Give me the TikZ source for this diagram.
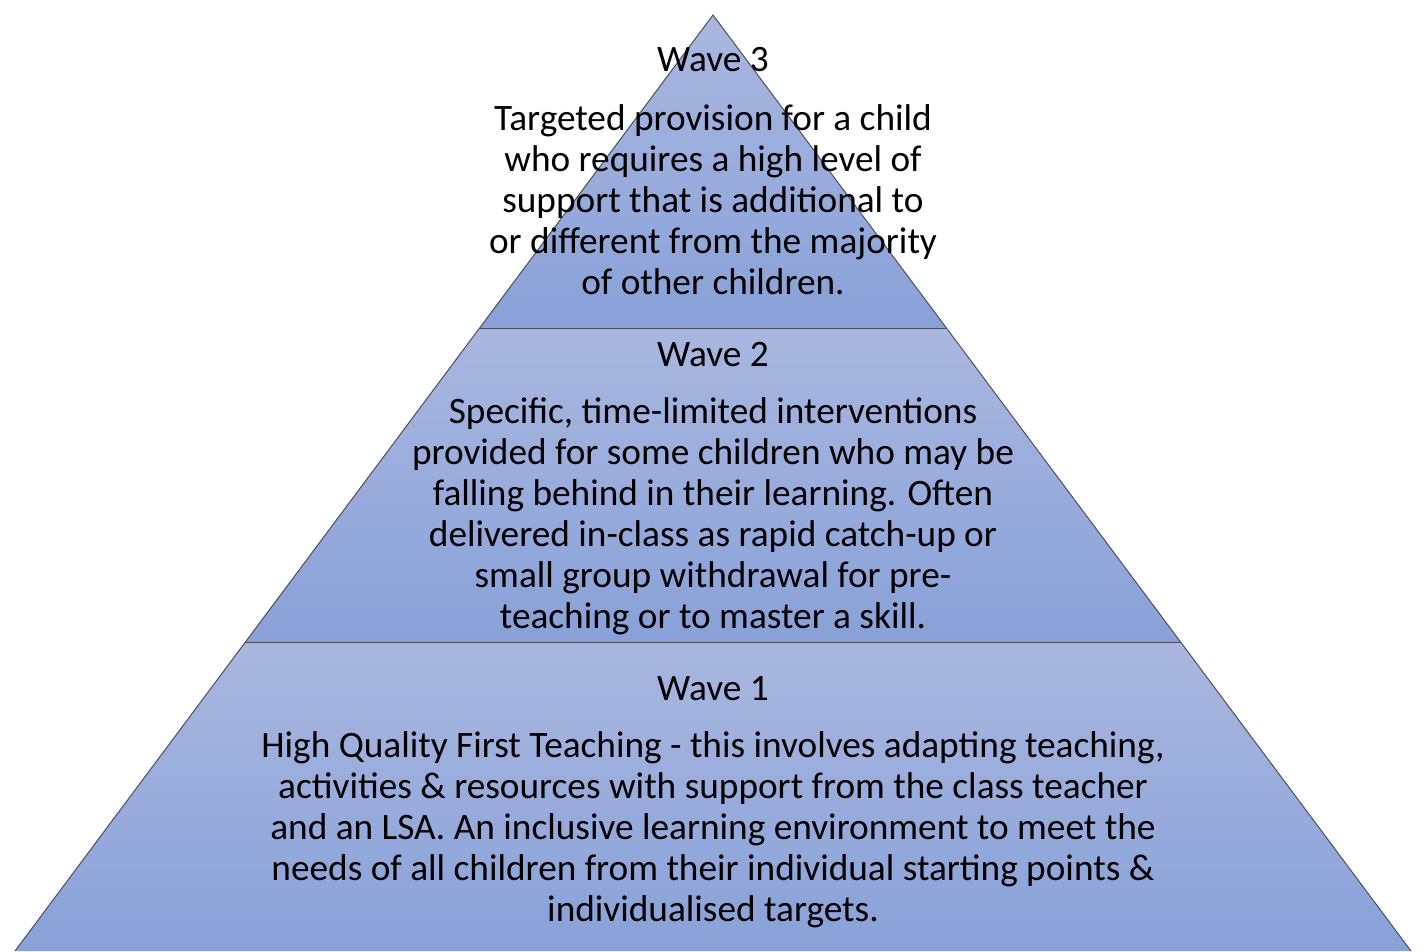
\documentclass[tikz,border=0pt]{standalone}
\usepackage{fontspec}
\setmainfont{Carlito}
\begin{document}
\begin{tikzpicture}[x=1pt,y=-1pt,
  tier/.style={top color=tiertop,bottom color=tierbot},
  edge/.style={draw=edgegray,line width=1pt},
  title/.style={font=\fontsize{37.3}{41}\selectfont,inner sep=0pt,text=black},
  body/.style={font=\fontsize{37.3}{41}\selectfont,inner sep=0pt,align=center,text=black}]
\definecolor{tiertop}{HTML}{A9B7E0}
\definecolor{tierbot}{HTML}{89A1D8}
\definecolor{edgegray}{HTML}{4A4F5C}
\useasboundingbox (0,0) rectangle (1424,951);
\coordinate (apex) at (713,15);
\coordinate (l1) at (479.6,328);
\coordinate (r1) at (946.4,328);
\coordinate (l2) at (245.4,642);
\coordinate (r2) at (1180.6,642);
\coordinate (l3) at (15,951);
\coordinate (r3) at (1411,951);
\shade[tier] (apex) -- (r1) -- (l1) -- cycle;
\shade[tier] (l1) -- (r1) -- (r2) -- (l2) -- cycle;
\shade[tier] (l2) -- (r2) -- (r3) -- (l3) -- cycle;
\draw[edge] (l3) -- (apex) -- (r3);
\draw[edge] (l1) -- (r1);
\draw[edge] (l2) -- (r2);
\node[title] (w3) at (713,60) {Wave 3};
\node[body] (b3) at (713,199.5) {Targeted provision for a child\\who requires a high level of\\support that is additional to\\or different from the majority\\of other children.};
\node[title] (w2) at (713,355) {Wave 2};
\node[body] (b2) at (713,516.5) {Specific, time-limited interventions\\provided for some children who may be\\falling behind in their learning. Often\\delivered in-class as rapid catch-up or\\small group withdrawal for pre-\\teaching or to master a skill.};
\node[title] (w1) at (713,689) {Wave 1};
\node[body] (b1) at (713,830) {High Quality First Teaching - this involves adapting teaching,\\activities \& resources with support from the class teacher\\and an LSA. An inclusive learning environment to meet the\\needs of all children from their individual starting points \&\\individualised targets.};
\end{tikzpicture}
\end{document}
